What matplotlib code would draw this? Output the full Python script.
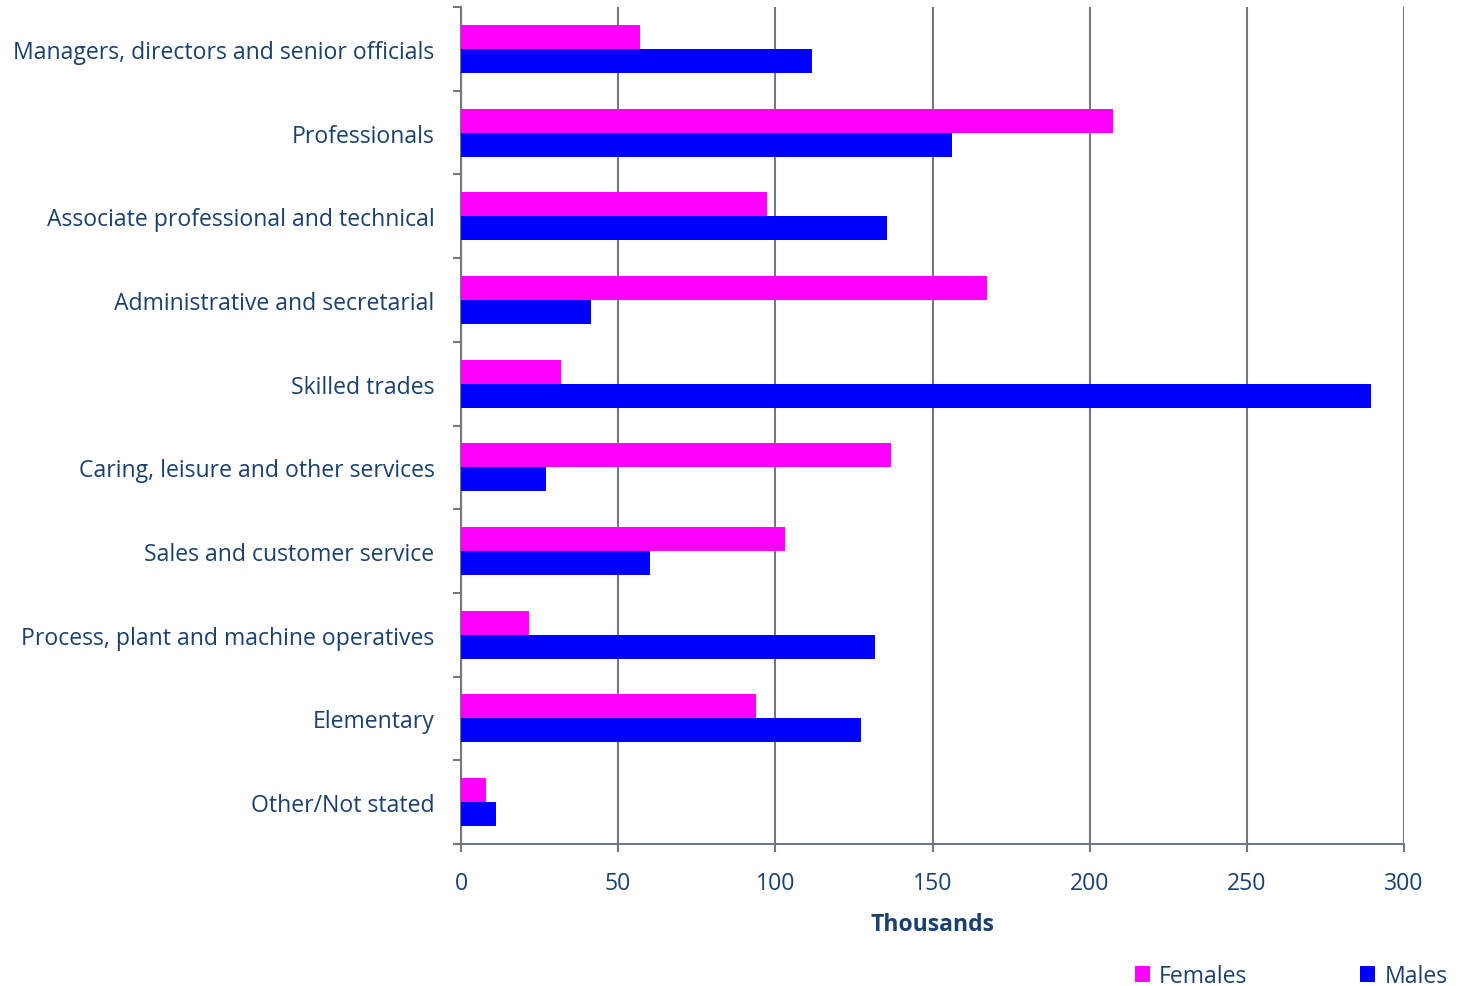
import matplotlib
matplotlib.use("Agg")
import matplotlib.pyplot as plt
import numpy as np

categories = [
    "Managers, directors and senior officials",
    "Professionals",
    "Associate professional and technical",
    "Administrative and secretarial",
    "Skilled trades",
    "Caring, leisure and other services",
    "Sales and customer service",
    "Process, plant and machine operatives",
    "Elementary",
    "Other/Not stated",
]
females = [57, 207.4, 97.4, 167.4, 31.8, 136.8, 103, 21.6, 93.9, 8]
males = [111.7, 156.2, 135.5, 41.4, 289.5, 27, 60.1, 131.7, 127.3, 11.1]

text_col = "#1A416E"
axis_col = "#737780"
fs = 16.6

plt.rcParams["font.family"] = ["Open Sans", "DejaVu Sans"]

fig = plt.figure(figsize=(14.64, 9.87), dpi=100)
ax = fig.add_axes([461 / 1464, 1 - 845 / 987, 943 / 1464, 837 / 987])

y = np.arange(len(categories))
h = 0.287
ax.barh(y - h / 2, females, height=h, color="#FF00FF", label="Females", zorder=3)
ax.barh(y + h / 2, males, height=h, color="#0000FF", label="Males", zorder=3)

ax.set_xlim(0, 300)
ax.set_ylim(len(categories) - 0.5, -0.5)
ax.set_xticks(np.arange(0, 301, 50))
ax.grid(axis="x", color=axis_col, linewidth=1.5, zorder=0)

ax.set_yticks(y)
ax.set_yticklabels(categories)
ax.set_yticks(np.arange(-0.5, len(categories)), minor=True)
ax.tick_params(axis="y", which="major", length=0, pad=19, labelsize=fs, labelcolor=text_col)
ax.tick_params(axis="y", which="minor", length=6, width=1.5, color=axis_col)
ax.tick_params(axis="x", length=6, width=1.5, color=axis_col, pad=13.5,
               labelsize=fs, labelcolor=text_col)

for side in ["top", "right"]:
    ax.spines[side].set_visible(False)
for side in ["left", "bottom"]:
    ax.spines[side].set_color(axis_col)
    ax.spines[side].set_linewidth(1.5)

ax.set_xlabel("Thousands", fontsize=fs, fontweight="bold", color=text_col, labelpad=12)

leg = fig.legend(loc="lower right", bbox_to_anchor=(1.003, -0.023), ncol=2, frameon=False,
                 fontsize=fs, handlelength=0.65, handleheight=0.65, handletextpad=0.4,
                 columnspacing=4.9)
for t in leg.get_texts():
    t.set_color(text_col)

fig.savefig("out.png", dpi=100)
